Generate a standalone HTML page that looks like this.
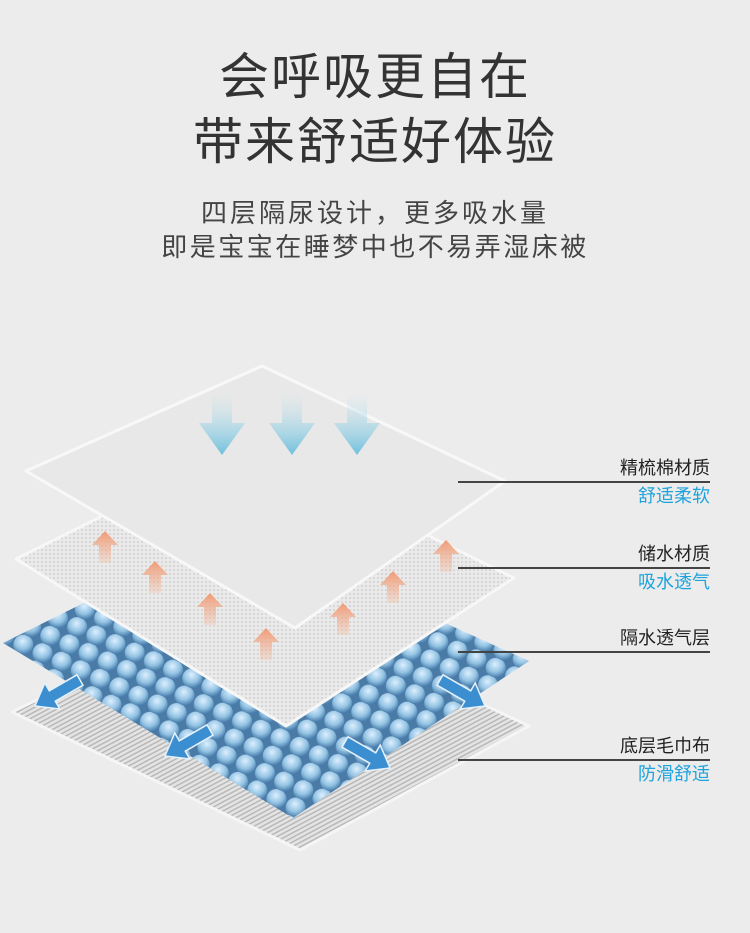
<!DOCTYPE html>
<html><head><meta charset="utf-8"><style>
html,body{margin:0;padding:0;background:#ececec;}
body{width:750px;height:933px;position:relative;overflow:hidden;font-family:"Liberation Sans","Noto Sans CJK SC",sans-serif;}
.t{position:absolute;left:0;width:750px;text-align:center;color:#333;line-height:1;}
.lab{position:absolute;right:40px;font-size:18px;text-align:right;line-height:1;}
.k{color:#222}.b{color:#1ea3dc}
.ln{position:absolute;left:458px;width:252px;height:2px;background:#444;}
</style></head><body>
<div class="t" style="top:52px;font-size:50px;letter-spacing:2px;">会呼吸更自在</div>
<div class="t" style="top:117px;font-size:50px;letter-spacing:2px;">带来舒适好体验</div>
<div class="t" style="top:200px;font-size:26px;color:#444;letter-spacing:3px;">四层隔尿设计，更多吸水量</div>
<div class="t" style="top:234px;font-size:26px;color:#444;letter-spacing:2.5px;">即是宝宝在睡梦中也不易弄湿床被</div>

<svg width="750" height="933" style="position:absolute;left:0;top:0">
<defs>
<pattern id="stripe" width="4" height="4" patternUnits="userSpaceOnUse" patternTransform="rotate(-28)">
<rect width="4" height="4" fill="#e4e4e4"/><rect width="4" height="1.5" fill="#b8b8b8"/></pattern>
<pattern id="mesh" width="4" height="4" patternUnits="userSpaceOnUse">
<rect width="4" height="4" fill="#eaeaea"/><circle cx="2" cy="2" r="0.9" fill="#c8c8c8"/></pattern>
<radialGradient id="bg" cx="0.4" cy="0.35" r="0.65"><stop offset="0" stop-color="#dcefff"/><stop offset="0.6" stop-color="#93c3e3"/><stop offset="1" stop-color="#4b7fae"/></radialGradient>
<pattern id="bub" width="21" height="19" patternUnits="userSpaceOnUse" patternTransform="rotate(24)">
<rect width="21" height="19" fill="#4a7aa6"/><circle cx="10.5" cy="9.5" r="10" fill="url(#bg)"/></pattern>
<linearGradient id="ga" x1="0" y1="0" x2="0" y2="1"><stop offset="0" stop-color="#bfe3ef" stop-opacity="0"/><stop offset="1" stop-color="#6fc0dc"/></linearGradient>
<linearGradient id="oa" x1="0" y1="1" x2="0" y2="0"><stop offset="0" stop-color="#f3b89c" stop-opacity="0.3"/><stop offset="1" stop-color="#f09a74"/></linearGradient>
<g id="da"><path d="M-10,-55 h20 v30 h13 l-23,32 l-23,-32 h13 z" fill="url(#ga)"/></g>
<g id="ua"><path d="M0,-17 l13,14 h-7 v18 h-12 v-18 h-7 z" fill="url(#oa)"/></g>
<g id="ba"><path d="M0,-6 h32 v-9 l20,15 l-20,15 v-9 h-32 z" fill="#3b8fd1" stroke="#e6f2fb" stroke-width="1.5"/></g>
</defs>
<polygon points="12,712 250,595 529,726 300,850" fill="url(#stripe)" stroke="#f5f5f5" stroke-width="3" stroke-linejoin="round"/>
<polygon points="3,643 235,528 529,661 293,818" fill="url(#bub)"/>
<use href="#ba" transform="translate(80,680) rotate(150)"/>
<use href="#ba" transform="translate(210,730) rotate(150)"/>
<use href="#ba" transform="translate(440,680) rotate(30)"/>
<use href="#ba" transform="translate(345,742) rotate(30)"/>
<polygon points="16,559 245,445 514,578 286,726" fill="url(#mesh)" stroke="#f7f7f7" stroke-width="3" stroke-linejoin="round"/>
<use href="#ua" transform="translate(105,548)"/>
<use href="#ua" transform="translate(155,578)"/>
<use href="#ua" transform="translate(210,610)"/>
<use href="#ua" transform="translate(266,645)"/>
<use href="#ua" transform="translate(343,620)"/>
<use href="#ua" transform="translate(393,588)"/>
<use href="#ua" transform="translate(446,557)"/>
<polygon points="26,471 262,366 505,481 295,628" fill="#e8e8e8" stroke="#f8f8f8" stroke-width="3" stroke-linejoin="round"/>
<use href="#da" transform="translate(222,448)"/>
<use href="#da" transform="translate(292,448)"/>
<use href="#da" transform="translate(357,448)"/>
</svg>

<div class="lab k" style="top:459px">精梳棉材质</div>
<div class="ln" style="top:481px"></div>
<div class="lab b" style="top:487px">舒适柔软</div>
<div class="lab k" style="top:545px">储水材质</div>
<div class="ln" style="top:567px"></div>
<div class="lab b" style="top:573px">吸水透气</div>
<div class="lab k" style="top:629px">隔水透气层</div>
<div class="ln" style="top:651px"></div>
<div class="lab k" style="top:737px">底层毛巾布</div>
<div class="ln" style="top:759px"></div>
<div class="lab b" style="top:765px">防滑舒适</div>
</body></html>
